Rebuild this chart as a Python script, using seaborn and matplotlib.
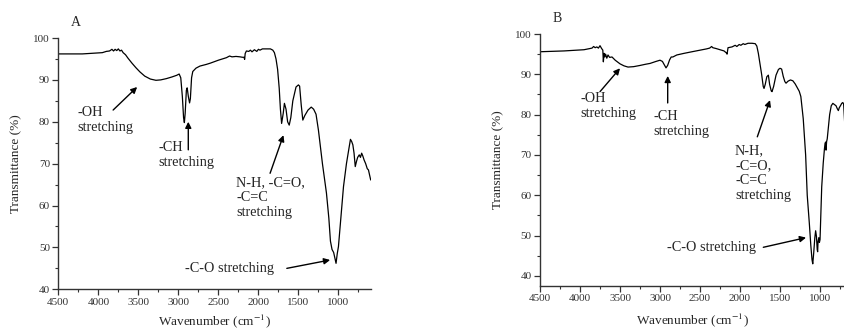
import numpy as np
import pandas as pd
import seaborn as sns
import matplotlib.pyplot as plt
from matplotlib.ticker import MultipleLocator

# FTIR spectra
wn_a = [4500, 4200, 3950, 3900, 3860, 3830, 3810, 3790, 3770, 3750, 3730, 3710, 3690, 3660,
        3630, 3580, 3530, 3480, 3420, 3350, 3280, 3220, 3150, 3080, 3020, 2990, 2970, 2950,
        2935, 2925, 2915, 2900, 2890, 2875, 2860, 2850, 2835, 2820, 2780, 2730, 2650, 2600,
        2500, 2400, 2360, 2330, 2280, 2230, 2200, 2180, 2172, 2165, 2150, 2120, 2100, 2080,
        2050, 2020, 2000, 1980, 1950, 1900, 1850, 1820, 1800, 1780, 1760, 1740, 1725, 1710,
        1690, 1675, 1655, 1635, 1615, 1595, 1570, 1530, 1500, 1485, 1465, 1445, 1420, 1380,
        1340, 1310, 1280, 1250, 1200, 1150, 1120, 1100, 1080, 1060, 1045, 1030, 1015, 1000,
        970, 937, 900, 870, 850, 835, 820, 805, 790, 775, 760, 740, 725, 710, 695, 680, 660,
        640, 625, 610, 597]
t_a = [96.2, 96.2, 96.5, 96.8, 96.9, 97.3, 96.9, 97.3, 97.0, 97.4, 96.9, 97.1, 96.5, 96.0,
       95.2, 94.0, 92.9, 91.9, 90.9, 90.2, 89.9, 90.0, 90.3, 90.7, 91.1, 91.4, 90.5, 86.0,
       81.0, 79.8, 82.0, 87.5, 88.1, 86.0, 84.5, 85.5, 90.5, 92.0, 92.8, 93.3, 93.7, 94.0,
       94.7, 95.3, 95.7, 95.5, 95.6, 95.5, 95.4, 95.4, 94.9, 96.3, 96.9, 96.8, 97.1, 96.7,
       97.2, 96.8, 97.3, 97.1, 97.4, 97.4, 97.4, 97.1, 96.5, 95.0, 92.5, 88.0, 83.0, 79.6,
       82.0, 84.4, 83.0, 80.0, 79.2, 81.0, 85.0, 88.3, 88.8, 88.5, 84.0, 80.4, 81.5, 82.8,
       83.5, 83.0, 81.8, 78.0, 70.0, 63.0, 57.0, 51.5, 49.5, 48.8, 47.5, 46.2, 48.5, 50.2,
       57.0, 64.5, 70.0, 73.5, 75.8, 75.3, 74.5, 72.5, 69.3, 70.5, 71.5, 72.1, 71.5, 72.5,
       71.8, 70.9, 70.0, 68.8, 68.5, 67.2, 66.1]

wn_b = [4500, 4200, 3950, 3875, 3850, 3830, 3810, 3790, 3770, 3750, 3730, 3715, 3708, 3700,
        3690, 3680, 3665, 3650, 3630, 3600, 3560, 3500, 3450, 3400, 3330, 3250, 3180, 3125,
        3050, 3000, 2970, 2950, 2925, 2905, 2880, 2860, 2840, 2820, 2790, 2700, 2600, 2500,
        2420, 2380, 2355, 2340, 2300, 2250, 2200, 2170, 2162, 2150, 2100, 2060, 2040, 2010,
        1990, 1960, 1940, 1900, 1850, 1810, 1790, 1771, 1750, 1730, 1710, 1700, 1685, 1665,
        1646, 1630, 1610, 1600, 1580, 1550, 1520, 1500, 1480, 1460, 1440, 1425, 1400, 1370,
        1340, 1310, 1291, 1260, 1240, 1210, 1180, 1160, 1134, 1115, 1100, 1091, 1080, 1065,
        1055, 1045, 1035, 1030, 1025, 1015, 1008, 1000, 990, 979, 960, 945, 937, 930, 925,
        918, 910, 900, 880, 860, 840, 820, 800, 785, 771, 760, 745, 729, 715, 705, 695, 688]
t_b = [95.6, 95.8, 96.1, 96.4, 96.5, 96.9, 96.6, 96.8, 96.5, 97.1, 96.4, 96.0, 93.1, 95.2,
       94.3, 95.0, 94.0, 94.8, 94.2, 94.3, 93.5, 92.6, 92.1, 91.8, 91.9, 92.2, 92.5, 92.7,
       93.2, 93.5, 93.2, 92.5, 91.6, 92.2, 93.6, 94.3, 94.3, 94.5, 94.8, 95.2, 95.6, 96.0,
       96.3, 96.5, 96.9, 96.6, 96.4, 96.1, 95.8, 95.3, 95.0, 96.6, 96.8, 97.2, 96.9, 97.4,
       97.2, 97.6, 97.4, 97.7, 97.7, 97.6, 97.0, 95.2, 92.5, 90.0, 87.0, 86.5, 87.5, 89.4,
       89.8, 87.5, 85.9, 85.7, 87.0, 89.8, 91.2, 91.5, 91.3, 89.5, 88.2, 87.8, 88.3, 88.6,
       88.4, 87.6, 86.9, 85.8, 84.5, 79.0, 70.0, 60.0, 53.1, 47.5, 44.0, 43.0, 45.5, 49.5,
       51.2, 49.8, 46.5, 46.0, 48.5, 49.5, 48.3, 49.0, 55.0, 62.1, 68.0, 71.5, 72.9, 73.2,
       71.2, 73.3, 74.0, 76.0, 80.0, 82.2, 82.8, 82.5, 82.2, 81.5, 81.0, 81.7, 82.2, 82.8,
       83.0, 82.6, 79.0, 76.6]

sns.set_style("ticks")
plt.rcParams['font.family'] = ['Liberation Serif', 'DejaVu Serif']
plt.rcParams['mathtext.fontset'] = 'stix'

fig = plt.figure(figsize=(8.45, 3.3), dpi=100)
ax_a = fig.add_axes([58.3/845, 1-289.3/330, 312.4/845, 251.3/330])
ax_b = fig.add_axes([540/845, 1-286/330, 305/845, 252/330])

df_a = pd.DataFrame({'wn': wn_a, 'T': t_a})
df_b = pd.DataFrame({'wn': wn_b, 'T': t_b})
sns.lineplot(data=df_a, x='wn', y='T', ax=ax_a, color='black', lw=0.9, estimator=None)
sns.lineplot(data=df_b, x='wn', y='T', ax=ax_b, color='black', lw=0.9, estimator=None)

ax_a.set_xlim(4500, 597)
ax_a.set_ylim(40, 100)
ax_b.set_xlim(4500, 688)
ax_b.set_ylim(37.5, 100)

for ax in (ax_a, ax_b):
    ax.spines['top'].set_visible(False)
    ax.spines['right'].set_visible(False)
    for s in ('left', 'bottom'):
        ax.spines[s].set_linewidth(1.0)
        ax.spines[s].set_color('#333333')
    ax.xaxis.set_major_locator(MultipleLocator(500))
    ax.xaxis.set_minor_locator(MultipleLocator(250))
    ax.yaxis.set_major_locator(MultipleLocator(10))
    ax.yaxis.set_minor_locator(MultipleLocator(5))
    ax.tick_params(which='major', direction='out', length=4, width=0.9, labelsize=8,
                   colors='#333333', pad=2)
    ax.tick_params(which='minor', direction='out', length=2.5, width=0.8, colors='#333333')
    ax.set_xlabel('Wavenumber (cm$^{-1}$)', fontsize=9.5)
    ax.set_ylabel('Transmittance (%)', fontsize=9.5)

ax_a.xaxis.set_label_coords(0.5, -0.092)
ax_b.xaxis.set_label_coords(0.5, -0.102)
ax_a.yaxis.set_label_coords(-0.116, 0.5)
ax_b.yaxis.set_label_coords(-0.118, 0.5)

fig.text(76/845, 1-23/330, 'A', fontsize=10, ha='center', va='center')
fig.text(557/845, 1-19/330, 'B', fontsize=10, ha='center', va='center')

arrow = dict(arrowstyle='-|>', color='black', lw=1.0, mutation_scale=9, shrinkA=0, shrinkB=0)
fs = 10.3

# panel A labels
ax_a.text(4266, 83.8, '-OH\nstretching', fontsize=fs, ha='left', va='top')
ax_a.annotate('', xy=(3515, 88.3), xytext=(3815, 82.8), arrowprops=arrow)
ax_a.text(3254, 75.4, '-CH\nstretching', fontsize=fs, ha='left', va='top')
ax_a.annotate('', xy=(2876, 80.0), xytext=(2876, 73.3), arrowprops=arrow)
ax_a.text(2279, 67.1, 'N-H, -C=O,\n-C=C\nstretching', fontsize=fs, ha='left', va='top')
ax_a.annotate('', xy=(1687, 76.8), xytext=(1854, 67.7), arrowprops=arrow)
ax_a.text(2916, 44.9, '-C-O stretching', fontsize=fs, ha='left', va='center')
ax_a.annotate('', xy=(1104, 47.0), xytext=(1645, 45.0), arrowprops=arrow)

# panel B labels
ax_b.text(4000, 85.5, '-OH\nstretching', fontsize=fs, ha='left', va='top')
ax_b.annotate('', xy=(3500, 91.5), xytext=(3750, 85.7), arrowprops=arrow)
ax_b.text(3087, 81.2, '-CH\nstretching', fontsize=fs, ha='left', va='top')
ax_b.annotate('', xy=(2904, 89.6), xytext=(2904, 82.9), arrowprops=arrow)
ax_b.text(2062, 72.7, 'N-H,\n-C=O,\n-C=C\nstretching', fontsize=fs, ha='left', va='top')
ax_b.annotate('', xy=(1625, 83.6), xytext=(1784, 74.5), arrowprops=arrow)
ax_b.text(2916, 47.1, '-C-O stretching', fontsize=fs, ha='left', va='center')
ax_b.annotate('', xy=(1175, 49.5), xytext=(1709, 47.1), arrowprops=arrow)

fig.savefig('out.png', dpi=100)
